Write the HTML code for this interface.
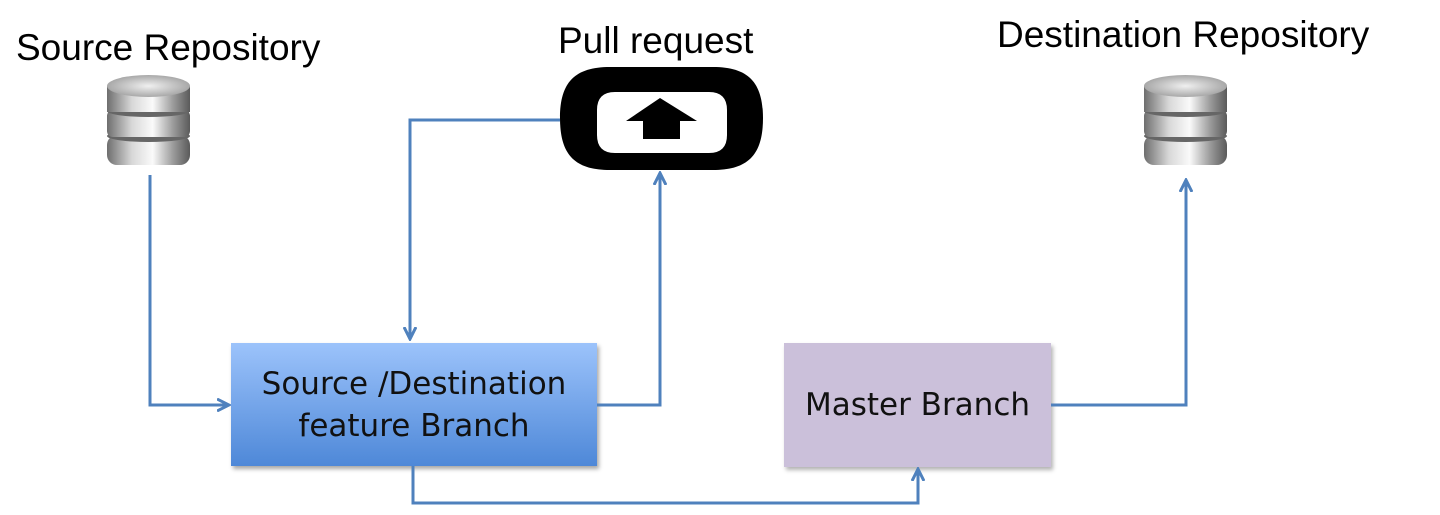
<!DOCTYPE html>
<html><head><style>
body{margin:0;width:1440px;height:515px;background:#fff;position:relative;overflow:hidden;font-family:"Liberation Sans",sans-serif}
.t{position:absolute;font-size:37px;color:#000;white-space:nowrap}
.box{position:absolute;display:flex;align-items:center;justify-content:center;text-align:center;font-family:"DejaVu Sans","Liberation Sans",sans-serif;font-size:31px;line-height:42px;color:#111}
</style></head><body>
<div class="t" style="left:16px;top:27px">Source Repository</div>
<div class="t" style="left:558px;top:20px">Pull request</div>
<div class="t" style="left:997px;top:14px">Destination Repository</div>
<div class="box" style="left:231px;top:343px;width:366px;height:123px;background:linear-gradient(#9cc3fb,#4e88d8);box-shadow:2px 3px 4px rgba(0,0,0,.35)">Source /Destination<br>feature Branch</div>
<div class="box" style="left:784px;top:343px;width:267px;height:124px;background:#cbc0da;box-shadow:2px 3px 4px rgba(0,0,0,.3)">Master Branch</div>
<svg width="1440" height="515" style="position:absolute;left:0;top:0">
<defs>
<linearGradient id="cg" x1="0" x2="1">
<stop offset="0" stop-color="#6e6e6e"/><stop offset=".3" stop-color="#d8d8d8"/><stop offset=".55" stop-color="#fafafa"/><stop offset=".8" stop-color="#9a9a9a"/><stop offset="1" stop-color="#5a5a5a"/></linearGradient>
<radialGradient id="tg"><stop offset="0" stop-color="#f0f0f0"/><stop offset="1" stop-color="#a8a8a8"/></radialGradient>
<marker id="a" markerWidth="14" markerHeight="14" refX="11" refY="7" orient="auto" markerUnits="userSpaceOnUse"><path d="M0,1 L12,7 L0,13" fill="none" stroke="#4f81bd" stroke-width="3"/></marker>
<g id="cyl">
<rect x="0" y="60" width="83" height="30" rx="10" fill="url(#cg)"/>
<ellipse cx="41.5" cy="61" rx="41.5" ry="6" fill="#666"/>
<rect x="0" y="35" width="83" height="27" rx="6" fill="url(#cg)"/>
<ellipse cx="41.5" cy="36" rx="41.5" ry="6" fill="#666"/>
<rect x="0" y="11" width="83" height="26" fill="url(#cg)"/>
<ellipse cx="41.5" cy="11" rx="41.5" ry="11" fill="url(#tg)"/>
</g>
</defs>
<use href="#cyl" x="107" y="75"/>
<use href="#cyl" x="1144" y="75"/>
<path fill-rule="evenodd" fill="#000" d="M610,67 H713 C748,67 763,82 763,118 C763,155 748,170 713,170 H610 C575,170 560,155 560,118 C560,82 575,67 610,67 Z M615,92 H709 Q727,92 727,110 V135 Q727,153 709,153 H615 Q597,153 597,135 V110 Q597,92 615,92 Z"/>
<path d="M660,98 L697,121 L680,121 L680,139 L643,139 L643,121 L626,121 Z" fill="#000"/>
<g fill="none" stroke="#4f81bd" stroke-width="3">
<path d="M150,175 V405 H228" marker-end="url(#a)"/>
<path d="M560,120 H410 V338" marker-end="url(#a)"/>
<path d="M597,405 H660 V174" marker-end="url(#a)"/>
<path d="M413,466 V503 H918 V470" marker-end="url(#a)"/>
<path d="M1051,405 H1186 V181" marker-end="url(#a)"/>
</g>
</svg>
</body></html>
